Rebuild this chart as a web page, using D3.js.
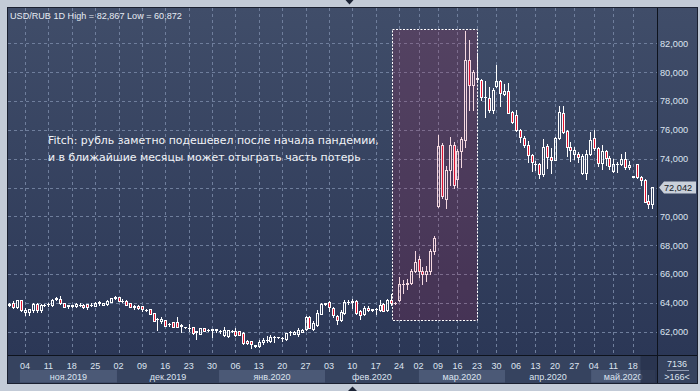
<!DOCTYPE html>
<html><head><meta charset="utf-8">
<script src="https://cdn.jsdelivr.net/npm/d3@7"></script>
<style>html,body{margin:0;padding:0;background:#c3cbd7;overflow:hidden}</style>
</head><body><svg id="c" width="700" height="391"></svg>
<script>
// ---------- data (USD/RUB daily candles, rubles) ----------
const open = [63.85,63.99,63.69,64.20,63.34,63.34,63.51,63.92,63.48,63.85,63.90,63.85,64.28,64.30,63.99,63.80,63.76,63.78,63.85,63.87,
63.90,63.85,63.81,64.00,63.85,63.92,64.06,64.38,64.39,64.15,64.15,63.97,63.76,63.81,63.76,63.50,63.57,63.27,62.86,62.72,
62.81,62.50,62.65,62.65,62.45,62.33,62.28,62.30,61.99,61.84,62.26,62.15,62.12,62.15,62.03,61.79,61.68,62.05,62.07,62.03,
61.93,61.37,61.33,61.08,61.03,61.26,61.40,61.37,61.60,61.60,61.55,61.49,61.95,61.84,61.84,62.00,62.16,63.04,62.19,62.49,
63.23,63.95,64.09,63.64,63.11,62.81,63.27,64.06,64.04,64.15,63.41,63.23,63.64,63.50,63.57,63.48,63.92,63.51,64.20,64.00,
64.20,65.31,65.30,65.36,66.19,67.02,66.24,66.00,66.19,67.58,70.75,74.92,71.21,73.18,74.92,72.60,74.50,75.31,80.86,79.08,
79.55,79.48,78.30,78.23,77.40,79.04,79.36,78.50,78.67,77.23,77.05,76.00,75.45,74.96,74.27,73.63,73.65,72.95,74.85,74.10,
73.92,75.45,77.16,75.89,74.80,74.34,74.34,73.00,73.00,74.29,75.45,74.75,73.69,74.50,74.06,73.13,73.65,73.65,74.00,73.41,
72.77,73.64,72.72,72.49,71.05,70.87];
const high = [64.00,64.15,64.22,64.22,63.62,63.60,63.99,63.99,63.92,63.92,63.99,64.30,64.44,64.46,64.00,63.85,63.87,63.99,63.97,63.90,
63.92,63.99,64.09,64.11,64.00,64.22,64.36,64.50,64.42,64.27,64.17,63.99,63.85,63.83,63.78,63.57,63.60,63.30,62.92,63.00,
62.84,62.58,62.68,63.04,62.53,62.35,62.53,62.32,62.07,62.28,62.28,62.19,62.20,62.19,62.10,62.30,62.15,62.12,62.26,62.05,
61.95,61.40,61.35,61.10,61.40,61.53,61.72,61.79,61.68,61.65,61.65,61.93,62.03,62.05,62.26,62.16,63.11,63.11,62.76,63.51,
63.99,64.02,64.11,63.74,63.16,63.51,64.20,64.20,64.27,64.20,63.51,63.81,63.76,63.60,63.62,64.20,63.99,64.27,64.61,64.06,
65.77,65.61,65.66,66.35,67.58,67.28,66.47,66.58,67.74,68.67,75.61,75.10,73.46,75.50,75.15,74.68,75.50,82.867,82.21,80.13,
81.33,79.55,79.36,79.00,78.90,80.47,79.43,79.20,79.25,77.30,77.35,76.07,75.54,75.22,74.34,73.87,73.70,75.38,74.99,74.75,
75.50,77.63,77.63,75.96,75.15,74.80,74.45,74.29,74.62,75.84,75.96,74.80,74.96,74.60,74.15,74.00,73.76,74.34,74.45,73.87,
72.80,73.65,72.83,72.60,71.45,72.06];
const low = [63.78,63.67,63.67,63.46,63.16,63.16,63.37,63.34,63.39,63.78,63.78,63.78,64.22,63.95,63.72,63.67,63.72,63.69,63.76,63.62,
63.57,63.76,63.76,63.85,63.83,63.85,64.04,64.28,64.13,64.04,63.83,63.72,63.57,63.60,63.46,63.46,63.20,62.74,62.12,62.63,
62.40,62.42,62.33,62.33,61.95,62.28,62.07,61.86,61.49,61.82,62.05,62.03,61.61,61.95,61.93,61.72,61.66,61.95,61.72,61.75,
61.17,61.15,60.872,60.95,60.91,61.14,61.31,61.26,61.31,61.58,61.37,61.45,61.79,61.82,61.72,61.95,62.12,62.24,62.12,62.42,
63.20,63.85,63.41,63.00,62.53,62.72,63.23,63.92,63.62,63.23,62.88,63.18,63.41,63.46,63.23,63.41,63.44,63.46,63.87,63.92,
64.10,64.66,64.96,65.31,66.12,65.77,65.31,65.50,66.00,67.40,70.68,71.30,70.59,72.20,72.00,72.02,73.40,74.80,77.35,77.40,
79.43,78.04,76.88,77.23,77.16,78.99,77.63,78.40,77.15,76.50,75.89,75.15,74.80,73.76,73.13,73.18,72.65,72.83,73.36,73.02,
73.90,75.38,75.77,74.15,73.87,73.99,73.76,72.95,72.60,74.22,74.60,73.46,73.30,73.53,73.30,73.06,73.06,73.53,73.30,73.30,
72.70,72.65,72.14,70.96,70.59,70.60];
const close = [63.95,63.69,64.20,63.51,63.51,63.57,63.92,63.51,63.85,63.88,63.95,64.22,64.36,64.00,63.74,63.82,63.85,63.92,63.88,63.74,
63.74,63.88,63.99,64.03,63.99,64.15,64.34,64.34,64.15,64.12,63.85,63.74,63.74,63.62,63.57,63.48,63.23,62.76,62.90,62.88,
62.42,62.55,62.35,62.35,62.42,62.30,62.26,61.88,62.03,62.26,62.07,62.12,62.19,62.17,62.07,62.12,62.12,62.08,61.77,61.77,
61.19,61.19,61.15,61.00,61.31,61.44,61.44,61.65,61.65,61.62,61.58,61.88,61.98,62.00,62.12,62.14,63.04,62.26,62.58,63.27,
63.92,64.00,63.74,63.16,62.81,63.39,64.09,64.09,64.15,63.27,63.16,63.64,63.51,63.57,63.55,63.85,63.46,64.20,63.97,64.02,
65.31,65.30,65.40,66.24,66.81,66.19,66.00,66.24,67.58,68.50,74.85,71.44,73.23,74.92,72.14,74.50,75.38,80.86,79.08,80.01,
79.60,78.27,78.27,77.40,78.78,79.36,78.55,78.67,77.19,76.54,75.96,75.50,74.92,74.27,73.80,73.65,72.95,74.80,74.10,73.92,
75.45,77.23,75.84,74.80,74.57,74.57,74.10,74.15,74.29,75.31,74.73,73.69,74.50,74.06,73.46,73.65,73.63,74.00,73.41,73.57,
72.75,72.72,72.49,70.98,70.87,72.042];

const tickLabels = ["04","11","18","25","02","09","16","23","30","06","13","20","27","03","10","17","24","02","09","16","23","30","06","13","20","27","04","11","18"];
const tickBars   = [4,10,16,22,28,34,40,46,52,58,64,70,76,82,88,94,100,105,110,115,120,125,130,135,140,145,150,155,160];
const monthLabels = ["ноя.2019","дек.2019","янв.2020","фев.2020","мар.2020","апр.2020","май.2020"];
const monthBounds = [2.7,27.6,53.8,81.0,105.1,127.2,149.3,165.7];
const yTicks = [62,64,66,68,70,72,74,76,78,80,82];
const highlightBars = [98.1,120.1];
const highlightRange = [62.83,83.02];
const noteLines = ["Fitch: рубль заметно подешевел после начала пандемии,","и в ближайшие месяцы может отыграть часть потерь"];
const symbol = "USD/RUB 1D";
const totalBars = 7136;

// ---------- setup ----------
const ru = d3.formatLocale({decimal:",",thousands:" ",grouping:[3],currency:["",""]});
const f3 = ru.format(".3f");
const L=8,T=8,R=657,B=356,AB=383,PR=697;
const x = d3.scaleLinear().domain([0,165]).range([9.42,652.3]);
const y = d3.scaleLinear().domain([62,82]).range([331.7,43.3]);
const svg = d3.select("#c");
const defs = svg.append("defs");
const gr = defs.append("linearGradient").attr("id","bg").attr("gradientUnits","userSpaceOnUse")
  .attr("x1",0).attr("y1",T).attr("x2",0).attr("y2",B);
gr.append("stop").attr("offset",0).attr("stop-color","#404d69");
gr.append("stop").attr("offset",1).attr("stop-color","#2b3756");
defs.append("clipPath").attr("id","clip").append("rect").attr("x",L).attr("y",T).attr("width",R-L).attr("height",B-T);

// outer frame
svg.append("rect").attr("width",700).attr("height",391).attr("fill","#c3cbd7");
svg.append("path").attr("d","M345.5,0L353.5,0L349.5,4.5Z").attr("fill","#1c2436");
svg.append("path").attr("d","M348,391L357,391L352.5,386.5Z").attr("fill","#1c2436");
svg.append("rect").attr("x",L-0.5).attr("y",T-0.5).attr("width",PR-L+1).attr("height",AB-T+1)
  .attr("fill","url(#bg)").attr("stroke","#1a2030");
// axis row
svg.append("rect").attr("x",L).attr("y",B).attr("width",PR-L).attr("height",AB-B).attr("fill","#36435f");

// grid
const grid = svg.append("g").attr("clip-path","url(#clip)").attr("stroke","#6f7e9c").attr("stroke-dasharray","3,3");
grid.selectAll("line.h").data(yTicks).join("line")
  .attr("x1",L).attr("x2",R).attr("y1",d=>Math.round(y(d))+0.5).attr("y2",d=>Math.round(y(d))+0.5);
grid.selectAll("line.v").data(tickBars).join("line")
  .attr("y1",T).attr("y2",B).attr("x1",d=>Math.round(x(d))+0.5).attr("x2",d=>Math.round(x(d))+0.5);

// candles
const cg = svg.append("g").attr("clip-path","url(#clip)");
d3.range(open.length).forEach(i=>{
  const cx = Math.round(x(i));
  const yt = Math.round(y(Math.max(open[i],close[i])));
  const yb = Math.round(y(Math.min(open[i],close[i])));
  const yh = Math.round(y(high[i])), yl = Math.round(y(low[i]));
  const up = close[i] >= open[i];
  cg.append("line").attr("x1",cx+0.5).attr("x2",cx+0.5).attr("y1",yh).attr("y2",yt).attr("stroke","#fff");
  cg.append("line").attr("x1",cx+0.5).attr("x2",cx+0.5).attr("y1",yb+1).attr("y2",yl+1).attr("stroke","#fff");
  if (yb - yt < 1) {
    cg.append("line").attr("x1",cx-1).attr("x2",cx+2).attr("y1",yt+0.5).attr("y2",yt+0.5).attr("stroke","#fff");
  } else {
    cg.append("rect").attr("x",cx-0.5).attr("y",yt+0.5).attr("width",2).attr("height",yb-yt)
      .attr("fill",up?"none":"#e3132f").attr("stroke","#fff");
  }
});

// highlight box
const hx0 = Math.round(x(highlightBars[0]))+0.5, hx1 = Math.round(x(highlightBars[1]))+0.5;
const hy0 = Math.round(y(highlightRange[1]))+0.5, hy1 = Math.round(y(highlightRange[0]))+0.5;
svg.append("rect").attr("x",hx0).attr("y",hy0).attr("width",hx1-hx0).attr("height",hy1-hy0)
  .attr("fill","rgba(190,22,70,0.17)").attr("stroke","#ffffff").attr("stroke-dasharray","2,1.5");

// annotation
svg.append("g").selectAll("text").data(noteLines).join("text")
  .attr("x",48).attr("y",(d,i)=>144+i*17).text(d=>d)
  .attr("font-family","DejaVu Sans").attr("font-size",10.9).attr("fill","#f2f4f8");

// title
svg.append("text").attr("x",10).attr("y",18.5)
  .text(`${symbol} High = ${f3(d3.max(high))} Low = ${f3(d3.min(low))}`)
  .attr("font-family","Liberation Sans").attr("font-size",9.1).attr("fill","#e6ebf3");

// separators
svg.append("line").attr("x1",R+0.5).attr("x2",R+0.5).attr("y1",T).attr("y2",AB).attr("stroke","#0e131d");
svg.append("line").attr("x1",L).attr("x2",PR).attr("y1",B-0.5).attr("y2",B-0.5).attr("stroke","#0e131d");

// right axis (labels hidden where the last-price marker sits)
const last = close[close.length-1], ly = Math.round(y(last));
svg.append("g").selectAll("text").data(yTicks.filter(d=>Math.abs(y(d)-ly)>9)).join("text")
  .attr("x",660).attr("y",d=>y(d)+3.4).text(d=>f3(d))
  .attr("font-family","Liberation Sans").attr("font-size",9.2).attr("fill","#dde4f0");

// current price label
svg.append("path").attr("d",`M659,${ly+0.5}L664,${ly-5.5}L696,${ly-5.5}L696,${ly+6.5}L664,${ly+6.5}Z`).attr("fill","#c9d0da");
svg.append("text").attr("x",664).attr("y",ly+4).text(f3(last))
  .attr("font-family","Liberation Sans").attr("font-size",9.2).attr("fill","#141a26");

// bottom axis: month bands + labels
const mb = svg.append("g");
monthLabels.forEach((m,i)=>{
  const a = x(monthBounds[i]), b = x(monthBounds[i+1]);
  if (i%2===0) mb.append("rect").attr("x",a).attr("y",370).attr("width",b-a).attr("height",12.5).attr("fill","#4b5976");
  mb.append("text").attr("x",(a+b)/2).attr("y",379.5).attr("text-anchor","middle").text(m)
    .attr("font-family","Liberation Sans").attr("font-size",9).attr("fill","#dde4f0");
});
svg.append("g").selectAll("text").data(tickBars).join("text")
  .attr("x",d=>x(d)).attr("y",368.5).attr("text-anchor","middle").text((d,i)=>tickLabels[i])
  .attr("font-family","Liberation Sans").attr("font-size",9).attr("fill","#dde4f0");
svg.append("rect").attr("x",640.5).attr("y",B).attr("width",R-640.5).attr("height",AB-B).attr("fill","rgba(40,50,76,0.8)");

// right-bottom cell
svg.append("text").attr("x",677).attr("y",367).attr("text-anchor","middle").text(totalBars)
  .attr("font-family","Liberation Sans").attr("font-size",9).attr("fill","#dde4f0");
svg.append("line").attr("x1",667).attr("x2",689).attr("y1",370.5).attr("y2",370.5).attr("stroke","#8f9ab0");
svg.append("text").attr("x",677).attr("y",380).attr("text-anchor","middle").text(`>${open.length}<`)
  .attr("font-family","Liberation Sans").attr("font-size",9).attr("fill","#dde4f0");
</script></body></html>
